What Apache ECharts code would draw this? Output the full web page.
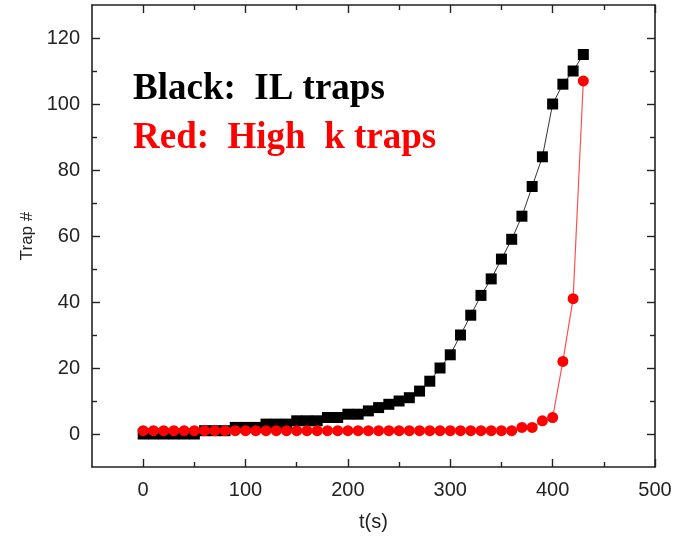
<!DOCTYPE html>
<html>
<head>
<meta charset="utf-8">
<script src="https://cdn.jsdelivr.net/npm/echarts@6/dist/echarts.min.js"></script>
<style>html,body{margin:0;padding:0;background:#fff}#c{width:675px;height:543px}</style>
</head>
<body>
<div id="c"></div>
<script>
// time (s)
var times = [0,10,20,30,40,50,60,70,80,90,100,110,120,130,140,150,160,170,180,190,200,210,220,230,240,250,260,270,280,290,300,310,320,330,340,350,360,370,380,390,400,410,420,430];
// Black: IL traps
var ilTraps = [0,0,0,0,0,0,1,1,1,2,2,2,3,3,3,4,4,4,5,5,6,6,7,8,9,10,11,13,16,20,24,30,36,42,47,53,59,66,75,84,100,106,110,115];
// Red: High k traps
var highKTraps = [1,1,1,1,1,1,1,1,1,1,1,1,1,1,1,1,1,1,1,1,1,1,1,1,1,1,1,1,1,1,1,1,1,1,1,1,1,2,2,4,5,22,41,107];
// tick values
var xMajorTicks = [0,100,200,300,400,500];
var xMinorTicks = [50,150,250,350,450];
var yMajorTicks = [0,20,40,60,80,100,120];
var yMinorTicks = [10,30,50,70,90,110];

var ink = '#222';
function pairs(xs, ys){ return xs.map(function(x,i){ return [x, ys[i]]; }); }

function xAx(pos, ticks, len, showLine, showLabel, extra){
  var a = {
    type:'value', position:pos, min:-50, max:500,
    axisLine:{show:showLine, onZero:false, lineStyle:{color:ink, width:1.6}},
    axisTick:{show:true, inside:true, length:len, customValues:ticks, lineStyle:{color:ink, width:1.4}},
    axisLabel:{show:showLabel, customValues:ticks, color:ink, fontSize:20, fontFamily:'Liberation Sans, Arial', margin:13},
    splitLine:{show:false}
  };
  return Object.assign(a, extra||{});
}
function yAx(pos, ticks, len, showLine, showLabel, extra){
  var a = {
    type:'value', position:pos, min:-10, max:130,
    axisLine:{show:showLine, onZero:false, lineStyle:{color:ink, width:1.6}},
    axisTick:{show:true, inside:true, length:len, customValues:ticks, lineStyle:{color:ink, width:1.4}},
    axisLabel:{show:showLabel, customValues:ticks, color:ink, fontSize:20, fontFamily:'Liberation Sans, Arial', margin:12},
    splitLine:{show:false}
  };
  return Object.assign(a, extra||{});
}

var chart = echarts.init(document.getElementById('c'), null, {renderer:'canvas'});
chart.setOption({
  animation:false,
  backgroundColor:'#fff',
  grid:{left:92, top:5, right:20, bottom:76, containLabel:false},
  xAxis:[
    xAx('bottom', xMajorTicks, 8, true, true, {name:'t(s)', nameLocation:'middle', nameGap:45, nameTextStyle:{color:ink, fontSize:20, fontFamily:'Liberation Sans, Arial'}}),
    xAx('bottom', xMinorTicks, 5, false, false),
    xAx('top', xMajorTicks, 8, true, false),
    xAx('top', xMinorTicks, 5, false, false)
  ],
  yAxis:[
    yAx('left', yMajorTicks, 8, true, true, {name:'Trap #', nameLocation:'middle', nameGap:56, nameTextStyle:{color:ink, fontSize:17, fontFamily:'Liberation Sans, Arial'}}),
    yAx('left', yMinorTicks, 5, false, false),
    yAx('right', yMajorTicks, 8, true, false),
    yAx('right', yMinorTicks, 5, false, false)
  ],
  graphic:[
    {type:'text', left:133, top:71, style:{text:'Black:  IL traps', fill:'#000', font:'bold 37px "Liberation Serif", "Times New Roman", serif'}},
    {type:'text', left:133, top:120, style:{text:'Red:  High  k traps', fill:'#ff0000', font:'bold 37px "Liberation Serif", "Times New Roman", serif'}}
  ],
  series:[
    {type:'line', name:'IL traps', data:pairs(times, ilTraps), symbol:'rect', symbolSize:11,
     lineStyle:{color:'#333', width:1}, itemStyle:{color:'#000'}},
    {type:'line', name:'High k traps', data:pairs(times, highKTraps), symbol:'circle', symbolSize:11,
     lineStyle:{color:'#ff5050', width:1.2}, itemStyle:{color:'#ff0000'}}
  ]
});
</script>
</body>
</html>
